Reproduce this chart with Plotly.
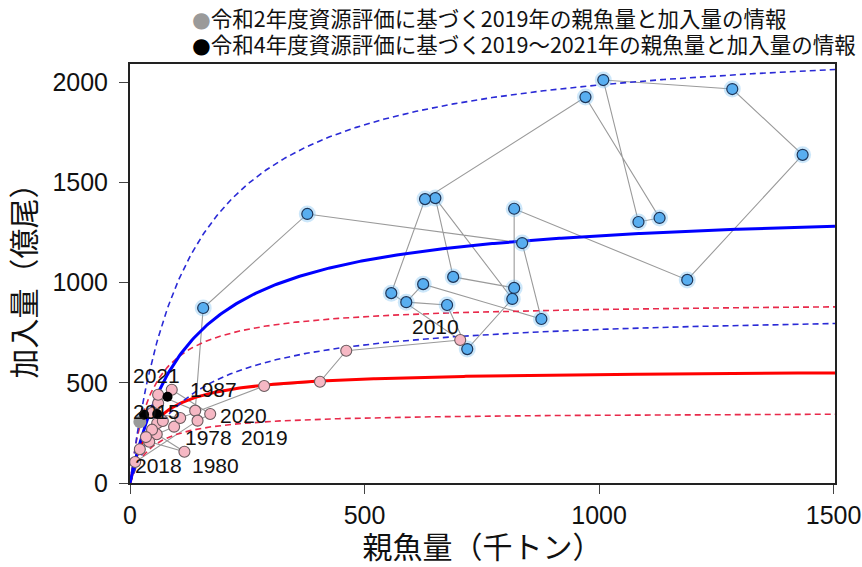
import numpy as np
import plotly.graph_objects as go

# ---- stock-recruitment data (SSB: thousand t, recruits: 100 million fish) ----
years = list(range(1978, 2022))
ssb = [94, 57, 116, 41, 21, 58, 47, 60, 60, 139,            # 1978-1987
       156, 378, 836, 877, 625, 589, 676, 719, 815, 651,     # 1988-1997
       689, 819, 819, 1188, 1434, 1284, 1009, 1084, 1129, 971,  # 1998-2007
       629, 557,                                            # 2008-2009
       704, 461, 405, 286, 107, 47, 70, 34, 11, 144, 171, 89]   # 2010-2021
recruits = [281, 243, 156, 206, 168, 298, 266, 398, 440, 361,
            873, 1342, 1197, 818, 992, 902, 888, 668, 918, 1421,
            1028, 973, 1368, 1013, 1637, 1965, 2010, 1302, 1322, 1925,
            1416, 947,
            713, 660, 505, 484, 324, 349, 309, 229, 105, 311, 344, 465]

# high-recruitment regime years
high_years = list(range(1988, 2010))

# estimates for 2019-2021 from the FY2022 (R4) assessment
r4_years = [2019, 2020, 2021]
r4_ssb = [30, 58, 80]
r4_rec = [341, 344, 430]

# 2019 estimate from the FY2020 (R2) assessment
r2_ssb = [21]
r2_rec = [306]

# Beverton-Holt curves R = a*S/(1+b*S) with 90% bands (x/÷ k)
bh_high = dict(a=11.1, b=0.008, k=1.61)
bh_low = dict(a=12.5, b=0.0221, k=1.6)

# year labels: (year, x shift px, y shift px)
year_labels = [(2021, -15, 14), (1987, 18, 21), (2015, 4, 2), (2020, 33, -1),
               (1978, 34, -11), (2019, 67, -17), (2018, 23, -4),
               (1980, 31, -14), (2010, -25, 14)]

legend_lines = ["令和2年度資源評価に基づく2019年の親魚量と加入量の情報",
                "令和4年度資源評価に基づく2019～2021年の親魚量と加入量の情報"]

# -----------------------------------------------------------------------------
LATIN = "Liberation Sans, Arial, Helvetica, sans-serif"
CJK = "Noto Sans CJK JP, sans-serif"
XMAX, YMAX = 1503, 2090

fig = go.Figure()

# chronological path
fig.add_trace(go.Scatter(x=ssb, y=recruits, mode="lines",
                         line=dict(color="#9a9a9a", width=1.1),
                         hoverinfo="skip", showlegend=False))

s = np.linspace(0, XMAX, 400)


def bh(p, s):
    return p["a"] * s / (1 + p["b"] * s)


for p, solid, dash_col in [(bh_low, "#ff0000", "#e8294a"),
                           (bh_high, "#0000ff", "#2a2ad6")]:
    r = bh(p, s)
    fig.add_trace(go.Scatter(x=s, y=r * p["k"], mode="lines",
                             line=dict(color=dash_col, width=1.6, dash="6px,4px"),
                             hoverinfo="skip", showlegend=False))
    fig.add_trace(go.Scatter(x=s, y=r / p["k"], mode="lines",
                             line=dict(color=dash_col, width=1.6, dash="6px,4px"),
                             hoverinfo="skip", showlegend=False))
    fig.add_trace(go.Scatter(x=s, y=r, mode="lines",
                             line=dict(color=solid, width=3),
                             hoverinfo="skip", showlegend=False))

hi_x = [x for x, y in zip(ssb, years) if y in high_years]
hi_y = [r for r, y in zip(recruits, years) if y in high_years]
lo_x = [x for x, y in zip(ssb, years) if y not in high_years]
lo_y = [r for r, y in zip(recruits, years) if y not in high_years]

# soft halo behind the high-regime points
fig.add_trace(go.Scatter(x=hi_x, y=hi_y, mode="markers",
                         marker=dict(size=17, color="rgba(110,185,240,0.35)"),
                         hoverinfo="skip", showlegend=False))
fig.add_trace(go.Scatter(x=hi_x, y=hi_y, mode="markers",
                         marker=dict(size=11, color="#58aef0",
                                     line=dict(color="#1d3558", width=1.2)),
                         showlegend=False))
fig.add_trace(go.Scatter(x=lo_x, y=lo_y, mode="markers",
                         marker=dict(size=11, color="#f6b8c4",
                                     line=dict(color="#6a5a5e", width=1.1)),
                         showlegend=False))
fig.add_trace(go.Scatter(x=r2_ssb, y=r2_rec, mode="markers",
                         marker=dict(size=13, color="#9a9a9a"),
                         showlegend=False))
fig.add_trace(go.Scatter(x=r4_ssb, y=r4_rec, mode="markers",
                         marker=dict(size=10, color="#000000"),
                         showlegend=False))

annotations = []
for yr, dx, dy in year_labels:
    i = years.index(yr)
    annotations.append(dict(x=ssb[i], y=recruits[i], xref="x", yref="y",
                            text=str(yr), showarrow=False, xshift=dx, yshift=dy,
                            font=dict(family=LATIN, size=21, color="#111")))

# header key lines
for txt, dot_col, ypos in [(legend_lines[0], "#9a9a9a", 1.111),
                           (legend_lines[1], "#000000", 1.049)]:
    annotations.append(dict(
        x=0.0851, y=ypos, xref="paper", yref="paper",
        xanchor="left", yanchor="middle", showarrow=False,
        text=(f"<span style='color:{dot_col};font-family:DejaVu Sans'>●</span>"
              f"{txt}"),
        font=dict(family=CJK, size=21.5, color="#111")))

axis_common = dict(showgrid=False, zeroline=False, showline=True, mirror=True,
                   linecolor="#222", linewidth=2, ticks="outside", ticklen=9,
                   tickwidth=1.3, tickcolor="#444", automargin=False,
                   tickfont=dict(family=LATIN, size=25, color="#111"))

fig.update_layout(
    width=862, height=567,
    margin=dict(l=130, r=27, t=64, b=84),
    paper_bgcolor="white", plot_bgcolor="white",
    xaxis=dict(range=[0, XMAX], tickvals=[0, 500, 1000, 1500],
               title=dict(text="親魚量（千トン）", standoff=11,
                          font=dict(family=CJK, size=30, color="#111")),
               **axis_common),
    yaxis=dict(range=[0, YMAX], tickvals=[0, 500, 1000, 1500, 2000],
               ticklabelstandoff=6,
               title=dict(text="加入量（億尾）", standoff=10,
                          font=dict(family=CJK, size=30, color="#111")),
               **axis_common),
    annotations=annotations,
    showlegend=False,
)

fig.write_html("out.html")
